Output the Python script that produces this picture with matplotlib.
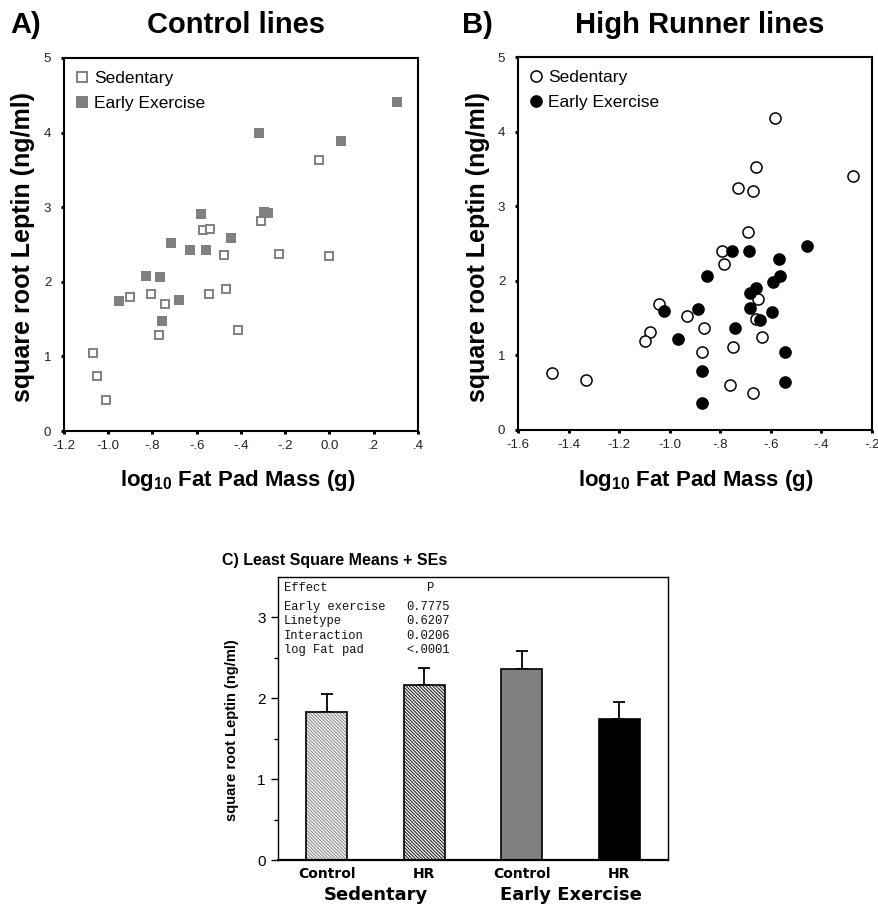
import matplotlib
matplotlib.use("Agg")
import matplotlib.pyplot as plt
import numpy as np

plt.rcParams['font.family'] = ['Liberation Sans', 'DejaVu Sans']
plt.rcParams['mathtext.fontset'] = 'custom'
plt.rcParams['mathtext.bf'] = 'Liberation Sans:bold'
plt.rcParams['mathtext.rm'] = 'Liberation Sans:bold'
plt.rcParams['hatch.linewidth'] = 0.8

# ---- Panel A: control lines ----
a_sed_x = [-0.047, -0.308, -0.573, -0.540, -0.479, -0.226, 0.000, -0.900, -0.805, -0.744,
           -0.545, -0.470, -0.771, -0.415, -1.067, -1.051, -1.008]
a_sed_y = [3.63, 2.82, 2.69, 2.71, 2.36, 2.37, 2.35, 1.79, 1.84, 1.70,
           1.84, 1.90, 1.29, 1.35, 1.05, 0.74, 0.41]
a_ex_x = [0.305, -0.320, 0.050, -0.580, -0.294, -0.280, -0.718, -0.629, -0.559, -0.447,
          -0.830, -0.767, -0.951, -0.682, -0.755]
a_ex_y = [4.41, 3.99, 3.89, 2.91, 2.94, 2.92, 2.52, 2.43, 2.42, 2.59,
          2.08, 2.06, 1.74, 1.75, 1.48]
a_xticks = [-1.2, -1.0, -0.8, -0.6, -0.4, -0.2, 0.0, 0.2, 0.4]
a_xticklabels = ['-1.2', '-1.0', '-.8', '-.6', '-.4', '-.2', '0.0', '.2', '.4']

# ---- Panel B: high runner lines ----
b_sed_x = [-0.583, -0.658, -0.728, -0.671, -0.276, -0.691, -0.793, -0.787, -0.652, -0.658,
           -1.044, -1.077, -1.096, -0.932, -0.866, -0.871, -0.750, -0.634, -0.760, -0.669,
           -1.467, -1.332]
b_sed_y = [4.18, 3.53, 3.25, 3.20, 3.40, 2.66, 2.40, 2.22, 1.76, 1.49,
           1.69, 1.31, 1.19, 1.53, 1.37, 1.04, 1.11, 1.24, 0.60, 0.49,
           0.76, 0.67]
b_ex_x = [-0.752, -0.686, -0.457, -0.568, -0.853, -0.563, -0.590, -0.657, -0.681, -0.681,
          -0.596, -0.643, -0.887, -1.021, -0.969, -0.740, -0.544, -0.874, -0.544, -0.871]
b_ex_y = [2.40, 2.40, 2.47, 2.29, 2.07, 2.07, 1.98, 1.91, 1.84, 1.64,
          1.58, 1.48, 1.62, 1.59, 1.22, 1.37, 1.04, 0.79, 0.64, 0.36]
b_xticks = [-1.6, -1.4, -1.2, -1.0, -0.8, -0.6, -0.4, -0.2]
b_xticklabels = ['-1.6', '-1.4', '-1.2', '-1.0', '-.8', '-.6', '-.4', '-.2']

yticks_ab = [0, 1, 2, 3, 4, 5]

# ---- Panel C: least square means ----
c_labels = ['Control', 'HR', 'Control', 'HR']
c_groups = ['Sedentary', 'Early Exercise']
c_means = [1.835, 2.17, 2.36, 1.74]
c_se = [0.22, 0.21, 0.23, 0.21]
effects = ['Early exercise', 'Linetype', 'Interaction', 'log Fat pad']
p_values = ['0.7775', '0.6207', '0.0206', '<.0001']

W, H = 879, 906
fig = plt.figure(figsize=(W / 100, H / 100), dpi=100)


def box(x0, y0, x1, y1):
    # pixel box (top-left origin) -> figure fractions
    return [x0 / W, 1 - y1 / H, (x1 - x0) / W, (y1 - y0) / H]


def scatter_style(ax, xlim, xticks, xticklabels):
    ax.set_xlim(xlim)
    ax.set_ylim(0, 5)
    ax.set_xticks(xticks)
    ax.set_xticklabels(xticklabels)
    ax.set_yticks(yticks_ab)
    ax.set_yticklabels([str(v) for v in yticks_ab])
    ax.tick_params(direction='out', length=2.2, width=2.2, labelsize=9.5,
                   colors='black', labelcolor='#222222')
    ax.tick_params(axis='y', pad=7)
    ax.tick_params(axis='x', pad=4)
    for sp in ax.spines.values():
        sp.set_linewidth(1.5)


leg_kw = dict(loc='upper left', frameon=False, fontsize=12.5, handlelength=0.6,
              handletextpad=0.4, labelspacing=0.55, borderaxespad=0.45,
              borderpad=0.3)

axA = fig.add_axes(box(64, 58, 418, 431))
axA.plot(a_sed_x, a_sed_y, ls='none', marker='s', ms=6.0, mfc='white',
         mec='#808080', mew=1.4, label='Sedentary')
axA.plot(a_ex_x, a_ex_y, ls='none', marker='s', ms=6.8, mfc='#808080',
         mec='#808080', mew=0, label='Early Exercise')
scatter_style(axA, (-1.2, 0.4), a_xticks, a_xticklabels)
axA.legend(markerscale=1.25, **leg_kw)

axB = fig.add_axes(box(518, 57, 872, 430))
axB.plot(b_sed_x, b_sed_y, ls='none', marker='o', ms=8, mfc='white',
         mec='black', mew=1.1, label='Sedentary')
axB.plot(b_ex_x, b_ex_y, ls='none', marker='o', ms=8, mfc='black',
         mec='black', mew=1.1, label='Early Exercise')
scatter_style(axB, (-1.6, -0.2), b_xticks, b_xticklabels)
axB.legend(**leg_kw)

# titles and axis labels for A and B
fig.text(10 / W, 1 - 25 / H, 'A)', fontsize=21, fontweight='bold', va='center', ha='left')
fig.text(236 / W, 1 - 25 / H, 'Control lines', fontsize=21, fontweight='bold',
         va='center', ha='center')
fig.text(462 / W, 1 - 25 / H, 'B)', fontsize=21, fontweight='bold', va='center', ha='left')
fig.text(700 / W, 1 - 25 / H, 'High Runner lines', fontsize=21, fontweight='bold',
         va='center', ha='center')
ylab = 'square root Leptin (ng/ml)'
xlab = r'log$_{\mathbf{10}}$ Fat Pad Mass (g)'
fig.text(23 / W, 1 - 247 / H, ylab, rotation=90, fontsize=18, fontweight='bold',
         va='center', ha='center')
fig.text(478 / W, 1 - 247 / H, ylab, rotation=90, fontsize=18, fontweight='bold',
         va='center', ha='center')
fig.text(238 / W, 1 - 480 / H, xlab, fontsize=16, fontweight='bold', va='center', ha='center')
fig.text(696 / W, 1 - 480 / H, xlab, fontsize=16, fontweight='bold', va='center', ha='center')

# ---- Panel C ----
axC = fig.add_axes(box(278, 577, 668, 860))
pos = np.arange(len(c_means))
fills = ['white', 'white', '#808080', 'black']
hatches = ['\\' * 10, '\\' * 10, None, None]
hatch_cols = ['#8a8a8a', '#222222', '#808080', 'black']
for i in range(len(c_means)):
    axC.bar(pos[i], c_means[i], width=0.42, color=fills[i], hatch=hatches[i],
            edgecolor=hatch_cols[i], linewidth=0, zorder=2)
    axC.bar(pos[i], c_means[i], width=0.42, fill=False, edgecolor='black',
            linewidth=1.2, zorder=3)
axC.errorbar(pos, c_means, yerr=[np.zeros(len(c_se)), c_se], fmt='none',
             ecolor='black', elinewidth=1.3, capsize=4, capthick=1.3, zorder=1)
axC.set_xlim(-0.5, 3.5)
axC.set_ylim(0, 3.5)
axC.set_yticks([0, 1, 2, 3])
axC.set_yticks([0.5, 1.5, 2.5], minor=True)
axC.tick_params(axis='y', which='major', direction='out', length=5, width=1,
                labelsize=11, pad=4)
axC.tick_params(axis='y', which='minor', direction='out', length=3, width=1)
axC.set_xticks(pos)
axC.set_xticklabels(c_labels, fontfamily='DejaVu Sans', fontweight='bold', fontsize=10)
axC.tick_params(axis='x', length=0, pad=5)
for sp in axC.spines.values():
    sp.set_linewidth(1.0)
axC.spines['bottom'].set_linewidth(1.6)

for j, g in enumerate(c_groups):
    xc = (pos[2 * j] + pos[2 * j + 1]) / 2
    axC.text(xc, -0.125, g, transform=axC.get_xaxis_transform(), ha='center',
             va='center', fontfamily='DejaVu Sans', fontweight='bold', fontsize=13)

axC.set_ylabel('square root Leptin (ng/ml)', fontsize=10.5, fontweight='bold')
axC.yaxis.set_label_coords(-0.1, 0.46)

fig.text(222 / W, 1 - 560 / H, 'C) Least Square Means + SEs', fontsize=11.5,
         fontweight='bold', va='center', ha='left')

mono = dict(fontfamily='Liberation Mono', fontsize=8.7, va='center', color='#111111')
fig.text(284 / W, 1 - 588 / H, 'Effect', ha='left', **mono)
fig.text(431 / W, 1 - 588 / H, 'P', ha='center', **mono)
row_y = [606.7, 621, 635.7, 650]
for name, p, yy in zip(effects, p_values, row_y):
    fig.text(284 / W, 1 - yy / H, name, ha='left', **mono)
    fig.text(406 / W, 1 - yy / H, p, ha='left', **mono)

fig.savefig('out.png', dpi=100)
